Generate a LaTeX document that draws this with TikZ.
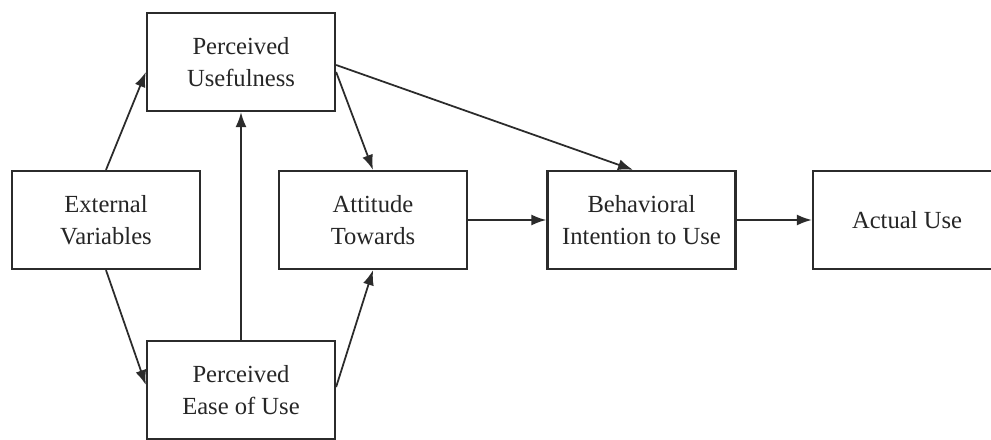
\documentclass[tikz,border=0pt]{standalone}
\usepackage{fontspec}
\setmainfont{Liberation Serif}
\usepackage{tikz}
\usetikzlibrary{arrows.meta,calc,positioning}
\definecolor{BoxInk}{HTML}{2B2B2B}
\definecolor{TextInk}{HTML}{262626}

\begin{document}
\begin{tikzpicture}[every node/.style={draw=BoxInk,line width=1.3pt,fill=white,minimum width=3.76cm,minimum height=1.96cm,inner sep=0pt,align=center,text=TextInk,font=\fontsize{14}{18.5}\selectfont}]
    \useasboundingbox[fill=white] (0,0) rectangle (19.82,8.8);
    \node (pu) at (4.82,7.56) {Perceived\\Usefulness};
    \node (ev) at (2.12,4.40) {External\\Variables};
    \node (att) at (7.46,4.40) {Attitude\\Towards};
    \node (bi) at (12.83,4.40) {Behavioral\\Intention to Use};
    \node (au) at (18.14,4.40) {Actual Use};
    \node (peou) at (4.82,1.00) {Perceived\\Ease of Use};
    \draw[BoxInk,line width=1pt,-{Latex[length=3mm,width=2.2mm]}] (ev.north) -- ([yshift=-0.2cm]pu.west);
    \draw[BoxInk,line width=1pt,-{Latex[length=3mm,width=2.2mm]}] (ev.south) -- ([yshift=0.1cm]peou.west);
    \draw[BoxInk,line width=1pt,-{Latex[length=3mm,width=2.2mm]}] (peou.north) -- (pu.south);
    \draw[BoxInk,line width=1pt,-{Latex[length=3mm,width=2.2mm]}] ([yshift=0.06cm]peou.east) -- (att.south);
    \draw[BoxInk,line width=1pt,-{Latex[length=3mm,width=2.2mm]}] ([yshift=-0.2cm]pu.east) -- (att.north);
    \draw[BoxInk,line width=1pt,-{Latex[length=3mm,width=2.2mm]}] ([yshift=-0.06cm]pu.east) -- ([xshift=-0.17cm]bi.north);
    \draw[BoxInk,line width=1pt,-{Latex[length=3mm,width=2.2mm]}] (att.east) -- (bi.west);
    \draw[BoxInk,line width=1pt,-{Latex[length=3mm,width=2.2mm]}] (bi.east) -- (au.west);
  \end{tikzpicture}
\end{document}
